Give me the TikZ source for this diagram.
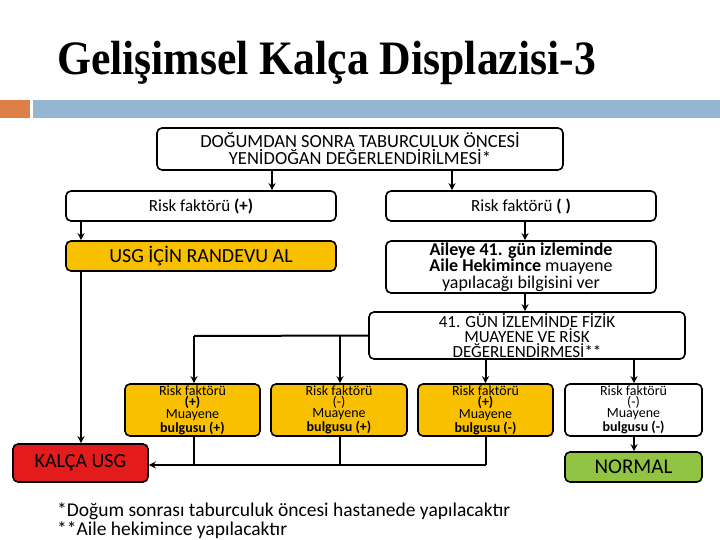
\documentclass[tikz,border=0pt]{standalone}
\usepackage{fontspec}
\setmainfont{Carlito}
\newfontfamily\titlefont{Liberation Serif}
\usetikzlibrary{arrows.meta}
\definecolor{ybox}{HTML}{F9C000}
\definecolor{rbox}{HTML}{E31B1B}
\definecolor{gbox}{HTML}{92C444}
\definecolor{obar}{HTML}{DD8047}
\definecolor{bbar}{HTML}{94B6D2}
\begin{document}
\begin{tikzpicture}[x=1pt,y=-1pt,
 bx/.style={draw=black,line width=1.6pt,rounded corners=5pt,align=center,inner sep=0pt},
 small/.style={font=\fontsize{14}{11}\selectfont},
 ar/.style={line width=2pt,-{Stealth[length=7pt,width=7pt]}},
 ln/.style={line width=2pt}]
\useasboundingbox (0,0) rectangle (720,540);
\fill[white] (0,0) rectangle (720,540);
\fill[obar] (0,100) rectangle (30,118);
\fill[bbar] (33,100) rectangle (720,118);
\node[anchor=base west,font=\titlefont\bfseries\fontsize{48}{48}\selectfont,xscale=0.91,inner sep=0] (title) at (57,75) {Gelişimsel Kalça Displazisi-3};
\node[bx,font=\fontsize{18.5}{17}\selectfont,minimum width=406pt,minimum height=42pt] (top) at (360,149) {DOĞUMDAN SONRA TABURCULUK ÖNCESİ\\YENİDOĞAN DEĞERLENDİRİLMESİ*};
\node[bx,font=\fontsize{17}{16}\selectfont,minimum width=270pt,minimum height=30pt] (rp) at (201,206) {Risk faktörü \textbf{(+)}};
\node[bx,font=\fontsize{17}{16}\selectfont,minimum width=270pt,minimum height=30pt] (rm) at (521,206) {Risk faktörü \textbf{( )}};
\node[bx,font=\fontsize{20}{16}\selectfont,fill=ybox,minimum width=270pt,minimum height=30pt] (usg) at (201,256) {USG İÇİN RANDEVU AL};
\node[bx,font=\fontsize{18}{14.5}\selectfont,minimum width=270pt,minimum height=52pt] (ail) at (521,267) {\textbf{Aileye 41. gün izleminde}\\\textbf{Aile Hekimince} muayene\\yapılacağı bilgisini ver};
\node[bx,font=\fontsize{17}{13.5}\selectfont,minimum width=316pt,minimum height=47pt] (gun) at (527,335.5) {41. GÜN İZLEMİNDE FİZİK\\MUAYENE VE RİSK\\DEĞERLENDİRMESİ**};
\node[bx,small,fill=ybox,minimum width=135pt,minimum height=52pt] (b1) at (192.5,410) {Risk faktörü\\\textbf{(+)}\\Muayene\\\textbf{bulgusu (+)}};
\node[bx,small,fill=ybox,minimum width=136pt,minimum height=52pt] (b2) at (339,410) {Risk faktörü\\(-)\\Muayene\\\textbf{bulgusu (+)}};
\node[bx,small,fill=ybox,minimum width=135pt,minimum height=52pt] (b3) at (485.5,410) {Risk faktörü\\\textbf{(+)}\\Muayene\\\textbf{bulgusu (-)}};
\node[bx,small,minimum width=137pt,minimum height=52pt] (b4) at (633.5,410) {Risk faktörü\\(-)\\Muayene\\\textbf{bulgusu (-)}};
\node[bx,fill=rbox,minimum width=135pt,minimum height=38pt,font=\fontsize{20}{20}\selectfont] (kal) at (80.5,463) {KALÇA USG};
\node[bx,fill=gbox,minimum width=137pt,minimum height=30pt,font=\fontsize{21}{21}\selectfont] (nor) at (633.5,467) {NORMAL};
\node[anchor=base west,font=\fontsize{19.5}{19}\selectfont,inner sep=0] (f1) at (57,516) {*Doğum sonrası taburculuk öncesi hastanede yapılacaktır};
\node[anchor=base west,font=\fontsize{19.5}{19}\selectfont,inner sep=0] (f2) at (57,535) {**Aile hekimince yapılacaktır};
\draw[ar] (top.south -| 272,0) -- (rp.north -| 272,0);
\draw[ar] (top.south -| 452,0) -- (rm.north -| 452,0);
\draw[ar] (rp.south -| 81,0) -- (usg.north -| 81,0);
\draw[ar] (rm.south -| 525,0) -- (ail.north -| 525,0);
\draw[ar] (ail.south -| 525,0) -- (gun.north -| 525,0);
\draw[ar] (usg.south -| 81,0) -- (kal.north -| 81,0);
\coordinate (j) at (194,336);
\draw[ln] (gun.west) -- (j);
\draw[ar] (j) -- (b1.north -| j);
\draw[ar] (340,336) -- (b2.north -| 340,0);
\draw[ar] (gun.south -| b3) -- (b3.north);
\draw[ar] (gun.south -| 634,0) -- (b4.north -| 634,0);
\draw[ar] (b4.south -| 634,0) -- (nor.north -| 634,0);
\coordinate (h) at (486,465);
\draw[ln] (b3.south -| h) -- (h);
\draw[ln] (b1.south -| 194,0) -- (194,465);
\draw[ln] (b2.south -| 340,0) -- (340,465);
\draw[ar] (h) -- (kal.east |- h);
\end{tikzpicture}
\end{document}
